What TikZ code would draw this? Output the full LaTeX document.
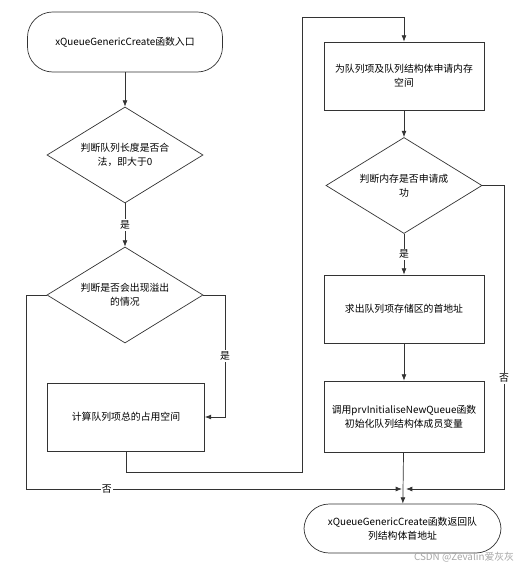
\documentclass[tikz,border=0pt]{standalone}
\usepackage{fontspec}
\newfontfamily\cjk{Noto Sans CJK SC}
\usetikzlibrary{shapes.geometric}
\usetikzlibrary{arrows.meta}

\tikzset{
  base/.style={draw=black!80, line width=.5pt, font=\cjk\fontsize{7}{10}\selectfont, align=center, inner sep=0pt},
  term/.style={base, rectangle, rounded corners=18pt, minimum width=4.875cm, minimum height=1.5cm},
  proc/.style={base, rectangle, minimum width=4cm, minimum height=1.7cm},
  decision/.style={base, diamond, aspect=1.63, minimum width=3.9cm, minimum height=2.4cm},
  flow/.style={draw=black!80, line width=.5pt, -{Latex[length=4.5pt,width=3.5pt]}},
  lbl/.style={fill=white, inner sep=1pt, font=\cjk\fontsize{7}{9}\selectfont}
}

\begin{document}
\begin{tikzpicture}[x=0.025cm, y=-0.025cm]
\useasboundingbox (0,0) rectangle (521,570);
% left column
\node[term] (start) at (125,42) {xQueueGenericCreate函数入口};
\node[decision] (chkLen) at (125,155) {判断队列长度是否合\\法，即大于0};
\node[decision] (chkOvf) at (125,295) {判断是否会出现溢出\\的情况};
\node[proc, minimum width=3.925cm] (calcSize) at (126,417) {计算队列项总的占用空间};
% right column
\node[proc] (allocMem) at (404,76) {为队列项及队列结构体申请内存\\空间};
\node[decision] (chkMem) at (404,185.5) {判断内存是否申请成\\功};
\node[proc] (itemAddr) at (404,309) {求出队列项存储区的首地址};
\node[proc, minimum height=1.775cm] (initQ) at (404,416.5) {调用prvInitialiseNewQueue函数\\初始化队列结构体成员变量};
\node[term, minimum width=4.925cm, minimum height=1.225cm] (ret) at (402.5,528.5) {xQueueGenericCreate函数返回队\\列结构体首地址};
\node[font=\cjk\fontsize{7}{9}\selectfont, text=black!35, anchor=east] (mark) at (519,557) {CSDN @Zevalin爱灰灰};

\coordinate (ovfR) at (225,295);
\coordinate (busL) at (302,472);
\coordinate (busT) at (302,17);
\coordinate (noL) at (26,295);
\coordinate (noLB) at (26,489);
\coordinate (joinL) at (402,489);
\coordinate (memR) at (504,185.5);
\coordinate (memRB) at (504,489);
\coordinate (joinR) at (406,489);

\draw[flow] (start) -- (chkLen);
\draw[flow] (chkLen) -- node[lbl]{是} (chkOvf);
\draw[flow] (chkOvf.east) -- (ovfR) |- node[lbl, pos=.25]{是} (calcSize.east);
\draw[flow] (calcSize.south) |- (busL) -- (busT) -| (allocMem.north);
\draw[flow] (chkOvf.west) -- (noL) -- (noLB) -- node[lbl, pos=.215]{否} (joinL);
\draw[flow] (allocMem) -- (chkMem);
\draw[flow] (chkMem) -- node[lbl]{是} (itemAddr);
\draw[flow] (chkMem.east) -- (memR) -- node[lbl, pos=.635]{否} (memRB) -- (joinR);
\draw[flow] (itemAddr) -- (initQ);
\draw[flow] (initQ) -- (ret);
\end{tikzpicture}
\end{document}
